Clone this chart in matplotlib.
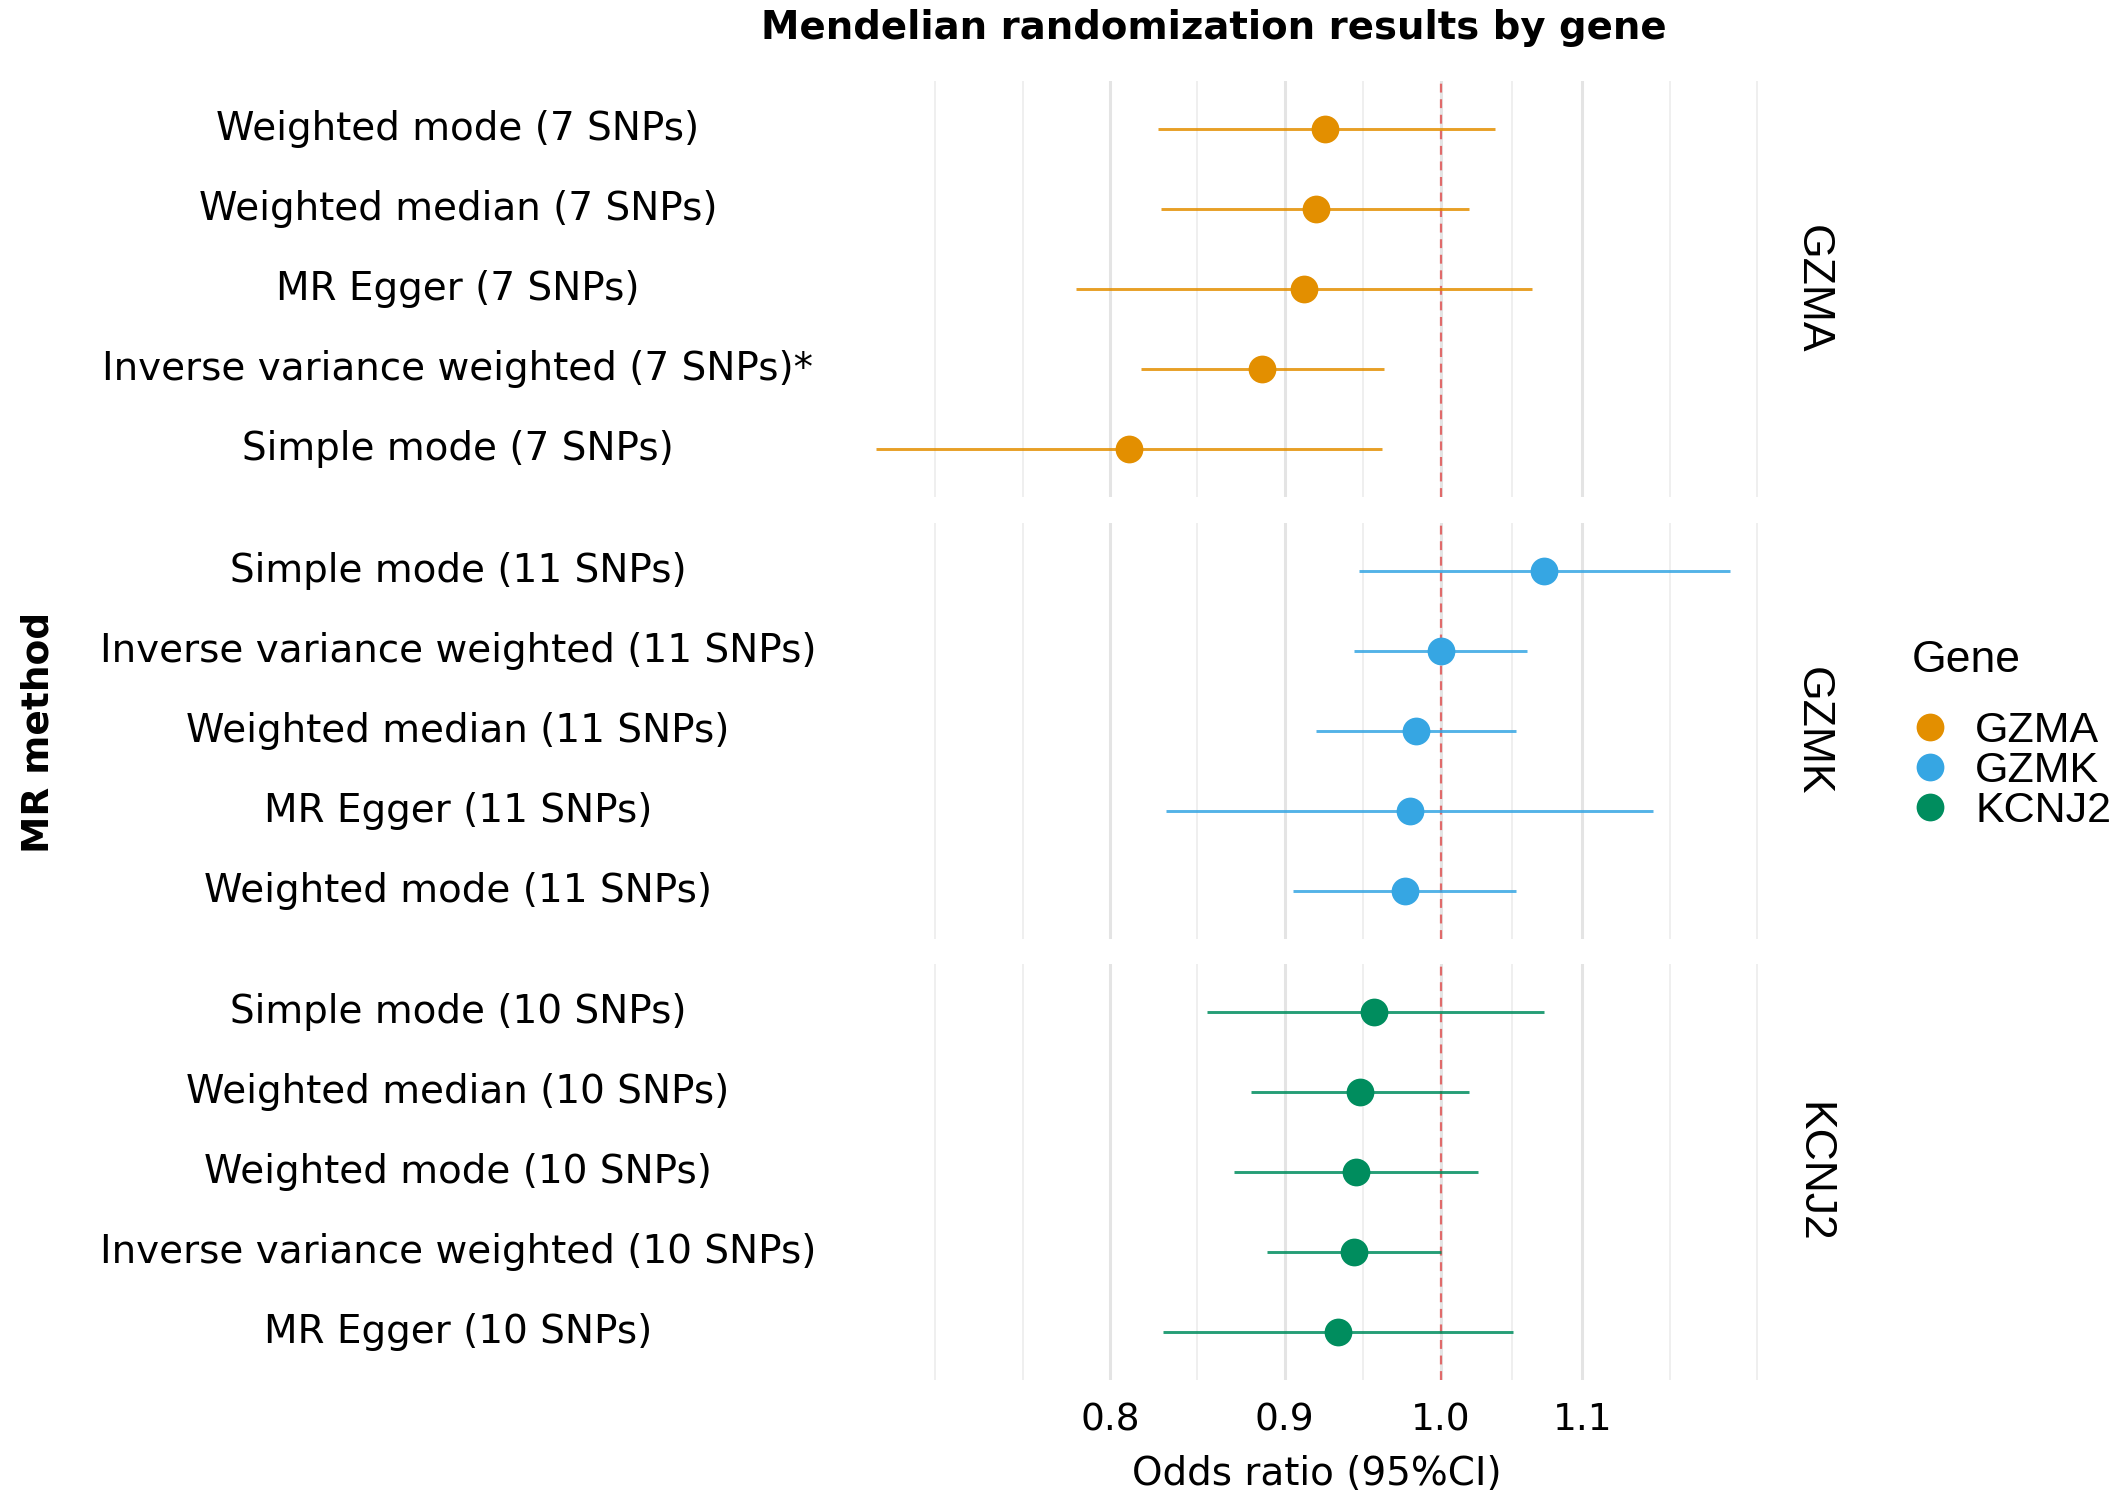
import numpy as np
import matplotlib.pyplot as plt
from matplotlib.lines import Line2D
from matplotlib.transforms import blended_transform_factory

# Data (odds ratio with 95% CI), rows top to bottom per gene
genes = ['GZMA', 'GZMK', 'KCNJ2']
gene_colors = ['#E38F00', '#36A6E3', '#008D5E']

gzma_methods = ['Weighted mode (7 SNPs)', 'Weighted median (7 SNPs)', 'MR Egger (7 SNPs)',
                'Inverse variance weighted (7 SNPs)*', 'Simple mode (7 SNPs)']
gzma_or = [0.925, 0.919, 0.912, 0.886, 0.810]
gzma_lo = [0.826, 0.828, 0.782, 0.817, 0.683]
gzma_hi = [1.037, 1.019, 1.063, 0.962, 0.961]

gzmk_methods = ['Simple mode (11 SNPs)', 'Inverse variance weighted (11 SNPs)',
                'Weighted median (11 SNPs)', 'MR Egger (11 SNPs)', 'Weighted mode (11 SNPs)']
gzmk_or = [1.072, 1.000, 0.983, 0.979, 0.976]
gzmk_lo = [0.946, 0.943, 0.919, 0.831, 0.905]
gzmk_hi = [1.215, 1.060, 1.052, 1.154, 1.052]

kcnj2_methods = ['Simple mode (10 SNPs)', 'Weighted median (10 SNPs)', 'Weighted mode (10 SNPs)',
                 'Inverse variance weighted (10 SNPs)', 'MR Egger (10 SNPs)']
kcnj2_or = [0.956, 0.947, 0.944, 0.943, 0.933]
kcnj2_lo = [0.854, 0.880, 0.870, 0.889, 0.829]
kcnj2_hi = [1.072, 1.019, 1.025, 1.000, 1.050]

x_breaks = [0.8, 0.9, 1.0, 1.1]
x_labels = ['0.8', '0.9', '1.0', '1.1']

panels = [
    (gzma_methods, gzma_or, gzma_lo, gzma_hi),
    (gzmk_methods, gzmk_or, gzmk_lo, gzmk_hi),
    (kcnj2_methods, kcnj2_or, kcnj2_lo, kcnj2_hi),
]

# x limits: data range with 5% expansion in log space (like ggplot)
all_lo = np.log(np.concatenate([gzma_lo, gzmk_lo, kcnj2_lo]))
all_hi = np.log(np.concatenate([gzma_hi, gzmk_hi, kcnj2_hi]))
rng = all_hi.max() - all_lo.min()
xlim = (np.exp(all_lo.min() - 0.05 * rng), np.exp(all_hi.max() + 0.05 * rng))

# minor breaks: midpoints in log space, extended one step each side
lb = np.log(x_breaks)
bd = lb[1] - lb[0]
ext = np.concatenate([[lb[0] - bd], lb, [lb[-1] + bd]])
minor = np.exp(np.concatenate([(ext[:-1] + ext[1:]) / 2, [ext[0], ext[-1]]]))

fig = plt.figure(figsize=(21.26, 15.04), dpi=100)
plt.rcParams['font.family'] = ['DejaVu Sans']

tops = [0.9461, 0.6523, 0.3590]
ph = 0.2766
left, pw = 0.3918, 0.4419
label_x = 0.2154

for i, (methods, orv, lo, hi) in enumerate(panels):
    ax = fig.add_axes([left, tops[i] - ph, pw, ph])
    col = gene_colors[i]
    y = np.arange(len(methods))
    ax.set_xscale('log')
    ax.set_xlim(*xlim)
    ax.set_ylim(len(methods) - 0.4, -0.6)

    for m in minor:
        ax.axvline(m, color='#EBEBEB', lw=1.1, zorder=0)
    for b in x_breaks:
        ax.axvline(b, color='#E4E4E4', lw=2.2, zorder=0)
    ax.axvline(1.0, color='#E06A6A', lw=1.6, ls=(0, (4, 3)), zorder=1)

    ax.hlines(y, lo, hi, color=col, lw=2.1, alpha=0.85, zorder=2)
    ax.plot(orv, y, 'o', color=col, ms=20, mec='none', zorder=3)

    ax.set_xticks(x_breaks)
    ax.set_xticks([], minor=True)
    if i == 2:
        ax.set_xticklabels(x_labels, fontsize=27)
    else:
        ax.set_xticklabels([])
    ax.tick_params(axis='x', length=0, pad=16)
    ax.set_yticks([])
    for s in ax.spines.values():
        s.set_visible(False)

    tr = blended_transform_factory(fig.transFigure, ax.transData)
    for yy, m in zip(y, methods):
        ax.text(label_x, yy, m, transform=tr, ha='center', va='center', fontsize=28)

    fig.text(0.8525, tops[i] - ph / 2, genes[i], rotation=-90, ha='center', va='center',
             fontsize=32, family='Liberation Sans')

fig.text(0.6195, 1 - 1474 / 1504, 'Odds ratio (95%CI)', ha='center', va='center', fontsize=28)
fig.text(0.018, 1 - 732 / 1504, 'MR method', rotation=90, ha='center', va='center',
         fontsize=27, fontweight='bold')
fig.text(0.571, 1 - 28 / 1504, 'Mendelian randomization results by gene', ha='center',
         va='center', fontsize=27.8, fontweight='bold')

# legend: title drawn separately to get ggplot-like gap before keys
fig.text(1912 / 2126, 1 - 660 / 1504, 'Gene', ha='left', va='center', fontsize=32,
         family='Liberation Sans')
handles = [Line2D([], [], marker='o', ls='none', color=c, ms=20, mec='none') for c in gene_colors]
leg = fig.legend(handles, genes, loc='upper left', bbox_to_anchor=(0.8956, 1 - 711 / 1504),
                 frameon=False, handletextpad=0.45, labelspacing=0.0,
                 borderaxespad=0, borderpad=0, prop={'family': 'Liberation Sans', 'size': 31},
                 handlelength=1.2)

fig.savefig('out.png', dpi=100)
